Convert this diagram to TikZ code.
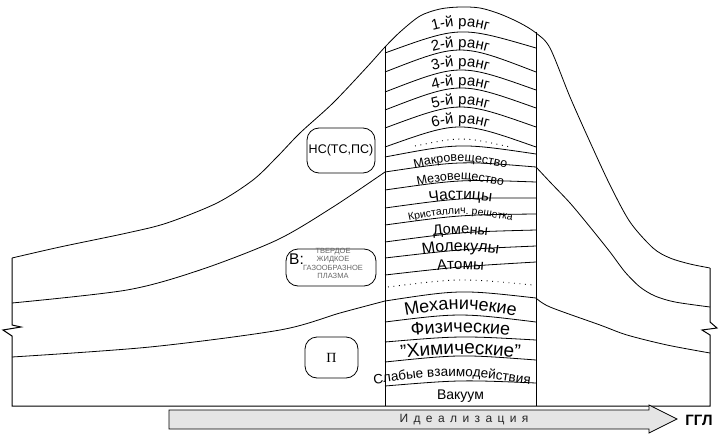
\documentclass[tikz,border=0pt]{standalone}
\usepackage{fontspec}
\setmainfont{Liberation Sans}
\newfontfamily\pifont{Liberation Serif}
\newfontfamily\spacedfont[LetterSpace=45]{Liberation Sans}
\usetikzlibrary{decorations.text}
\newcommand\fsz[1]{\fontsize{#1}{#1}\selectfont}

\tikzset{
  thinline/.style={line width=0.8pt},
  frameline/.style={line width=1pt},
  dotline/.style={line width=0.9pt, dash pattern=on 0.9pt off 4.6pt},
  stagebox/.style={draw, line width=0.8pt, rounded corners=12pt, inner sep=0pt},
  rowtext/.style 2 args={decorate, decoration={text along path, text align=center, text={|\fsz{#1}|#2}}}
}

\begin{document}
\begin{tikzpicture}[x=1pt, y=-1pt]
  \useasboundingbox (0,0) rectangle (722,441);

  % frame with breaks
  \draw[frameline] (12,258) -- (12,325) -- (21,327) -- (3,330) -- (12,336) -- (12,406)
    -- (710,406) -- (710,335) -- (702,330) -- (717,328) -- (710,322) -- (710,268);
  \draw[frameline] (385,47) -- (385,406);
  \draw[frameline] (536,32) -- (536,406);

  % three levels
  \draw[thinline] plot[smooth] coordinates {(12,258) (60,247) (127,233) (167,223) (217,203)
    (253,180) (277,157) (300,133) (333,103) (367,67) (385,47) (400,32) (420,16) (440,9)
    (460,7) (480,8) (500,14) (520,23) (536,33) (550,48) (570,97) (590,142) (610,185)
    (630,222) (653,248) (670,258) (690,264) (710,268)};
  \draw[thinline] plot[smooth] coordinates {(12,303) (127,290) (200,270) (277,240) (333,207) (385,172)};
  \draw[thinline] (385,172) .. controls (460,160.8) .. (536,167);
  \draw[thinline] plot[smooth] coordinates {(536,167) (550,182) (570,203) (590,227) (610,252)
    (625,272) (640,287) (655,296) (675,302) (710,307)};
  \draw[thinline] plot[smooth] coordinates {(12,357) (150,347) (280,330) (340,313) (385,301)};
  \draw[thinline] (385,301) .. controls (460,289.5) .. (536,298);
  \draw[thinline] plot[smooth] coordinates {(536,298) (550,307) (600,325) (627,335) (667,345) (710,353)};

  % arcs in the column
  \draw[thinline] (385,53) .. controls (460,25.8) .. (536,48);
  \draw[thinline] (385,72) .. controls (460,42.7) .. (536,72);
  \draw[thinline] (385,92) .. controls (460,63) .. (536,90);
  \draw[thinline] (385,110) .. controls (460,81) .. (536,108);
  \draw[thinline] (385,128) .. controls (460,100.2) .. (536,127);
  \draw[thinline] (385,147) .. controls (460,120.3) .. (536,147);
  \draw[dotline] (415,146) .. controls (462,136.5) .. (510,147);
  \draw[thinline] (385,157) .. controls (460,142.8) .. (536,154);
  \draw[thinline] (385,190) .. controls (460,179.3) .. (536,182);
  \draw[thinline] (385,208) .. controls (460,197.7) .. (536,198);
  \draw[thinline] (385,225) .. controls (460,214.8) .. (536,214);
  \draw[thinline] (385,242) .. controls (460,232) .. (536,230);
  \draw[thinline] (385,258) .. controls (460,249.3) .. (536,246);
  \draw[thinline] (385,275) .. controls (460,266.5) .. (536,262);
  \draw[dotline] (388,287) .. controls (460,278) .. (533,285);
  \draw[thinline] (385,322) .. controls (460,312.7) .. (536,322);
  \draw[thinline] (385,342) .. controls (460,335.7) .. (536,340);
  \draw[thinline] (385,362) .. controls (460,354.3) .. (536,360);
  \draw[thinline] (385,386) .. controls (460,379.8) .. (536,383);

  % row labels
  \path[rowtext={15}{1-й ранг}] (385,46.5) .. controls (460,19.8) .. (536,46.5);
  \path[rowtext={15}{2-й ранг}] (385,68.5) .. controls (460,40.5) .. (536,68.5);
  \path[rowtext={15}{3-й ранг}] (385,87.5) .. controls (460,59.5) .. (536,87.5);
  \path[rowtext={15}{4-й ранг}] (385,105.5) .. controls (460,78.8) .. (536,105.5);
  \path[rowtext={15}{5-й ранг}] (385,124.5) .. controls (460,97.8) .. (536,124.5);
  \path[rowtext={15}{6-й ранг}] (385,143.5) .. controls (460,116.8) .. (536,143.5);
  \path[rowtext={12.5}{Макровещество}] (385,175.5) .. controls (460,156.8) .. (536,175.5);
  \path[rowtext={12.5}{Мезовещество}] (385,193) .. controls (460,175.7) .. (536,193);
  \path[rowtext={15.5}{Частицы}] (385,209.5) .. controls (460,196.2) .. (536,209.5);
  \path[rowtext={10.5}{Кристаллич. решетка}] (385,226) .. controls (460,210) .. (536,226);
  \path[rowtext={14.5}{Домены}] (385,244) .. controls (460,230.7) .. (536,244);
  \path[rowtext={16}{Молекулы}] (385,261) .. controls (460,247.7) .. (536,261);
  \path[rowtext={15}{Атомы}] (385,277.3) .. controls (460,266.6) .. (536,277.3);
  \path[rowtext={18}{Механичекие}] (385,319.5) .. controls (460,306.2) .. (536,319.5);
  \path[rowtext={18}{Физические}] (385,338.5) .. controls (460,330.5) .. (536,338.5);
  \path[rowtext={19}{"Химические"}] (385,360) .. controls (460,352) .. (536,360);
  \path[rowtext={13.5}{Слабые взаимодействия}] (362,386) .. controls (452,372.7) .. (542,386);
  \path[rowtext={14}{Вакуум}] (385,399) -- (536,399);

  % state boxes
  \node[stagebox, minimum width=68pt, minimum height=45pt, font=\fsz{12.5}] (ns) at (341,150.5) {НС(ТС,ПС)};
  \node[stagebox, minimum width=90pt, minimum height=37pt] (phase) at (331,267.5) {};
  \node[font=\fsz{15.5}, inner sep=0pt] (phasev) at (296.5,259) {В:};
  \node[font=\fontsize{7.5}{8.5}\selectfont, text=black!60, align=center, inner sep=0pt] (phaselist)
    at (333,263.5) {ТВЕРДОЕ\\ЖИДКОЕ\\ГАЗООБРАЗНОЕ\\ПЛАЗМА};
  \node[stagebox, minimum width=53pt, minimum height=41pt, font=\pifont\fsz{14}] (p) at (331.5,357.5) {П};

  % idealization arrow
  \draw[thinline, fill=black!10] (169,410) -- (649,410) -- (649,405) -- (677,419) -- (649,433)
    -- (649,429) -- (169,429) -- cycle;
  \node[font=\spacedfont\fsz{12}, text=black!85] (ideal) at (464,419.5) {Идеализация};
  \node[font=\bfseries\fsz{15}] (ggl) at (699,420) {ГГЛ};
\end{tikzpicture}
\end{document}
